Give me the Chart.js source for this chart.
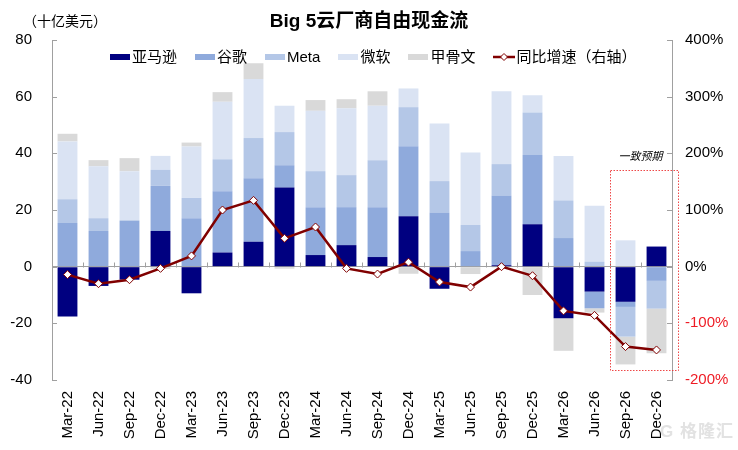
<!DOCTYPE html>
<html>
<head>
<meta charset="utf-8">
<script src="https://cdn.jsdelivr.net/npm/chart.js@4.4.1/dist/chart.umd.min.js"></script>
<style>
  html, body { margin: 0; padding: 0; background: #fff; }
  #wrap { position: relative; width: 738px; height: 450px; font-family: "Liberation Sans", "Noto Sans CJK SC", sans-serif; }
  #chart { position: absolute; left: 0; top: 0; }
  .title { position: absolute; left: 0; top: 10px; width: 738px; text-align: center; font-size: 19px; font-weight: bold; line-height: 22px; color: #000; }
  .unit { position: absolute; left: 23px; top: 11px; font-size: 14px; line-height: 20px; color: #000; }
  .legend { position: absolute; left: 110px; top: 48px; display: flex; align-items: center; font-size: 15px; line-height: 18px; color: #000; }
  .legend .item { display: flex; align-items: center; margin-right: 18px; }
  .legend .box { width: 20px; height: 6px; margin-right: 2px; }
  .legend svg { margin-right: 1px; }
  .mark { position: absolute; right: 4px; bottom: 8px; font-size: 17px; font-weight: bold; color: #e2e2e2; letter-spacing: 1px; }
</style>
</head>
<body>
<div id="wrap">
  <canvas id="chart" width="738" height="450"></canvas>
  <div class="unit">（十亿美元）</div>
  <div class="title">Big 5云厂商自由现金流</div>
  <div class="legend" id="legend"></div>
  <div class="mark">G 格隆汇</div>
</div>
<script>
// ====== DATA ======
const categories = ["Mar-22", "Jun-22", "Sep-22", "Dec-22", "Mar-23", "Jun-23", "Sep-23", "Dec-23",
  "Mar-24", "Jun-24", "Sep-24", "Dec-24", "Mar-25", "Jun-25", "Sep-25", "Dec-25",
  "Mar-26", "Jun-26", "Sep-26", "Dec-26"];

const amazon = [-17.6, -6.8, -4.6, 12.6, -9.4, 5.0, 8.8, 27.9, 4.1, 7.6, 3.4, 17.8, -7.8, 0, 0.5, 15.0, -18.2, -8.8, -12.4, 7.1];
const google = [15.4, 12.6, 16.2, 15.9, 17.1, 21.6, 22.4, 7.9, 16.9, 13.4, 17.6, 24.7, 19.0, 5.5, 24.5, 24.4, 10.1, -5.9, -1.8, -5.0];
const meta   = [8.4, 4.5, 0.2, 5.7, 7.2, 11.3, 14.2, 11.7, 12.7, 11.3, 16.6, 13.8, 11.2, 9.2, 11.2, 15.0, 13.3, 1.8, -10.5, -9.8];
const msft   = [20.4, 18.3, 17.3, 4.9, 18.1, 20.3, 20.8, 9.3, 21.3, 23.6, 19.2, 6.6, 20.3, 25.6, 25.7, 6.1, 15.7, 19.7, 9.3, 0];
const oracle = [2.7, 2.2, 4.6, -0.8, 1.4, 3.4, 5.6, -0.7, 3.8, 3.2, 5.1, -2.5, 0, -2.6, -0.3, -10.0, -11.5, -1.5, -9.8, -15.8];
const growth = [-14, -30, -23, -3, 19, 100, 117, 50, 70, -3, -13, 8, -27, -36, 0, -16, -78, -86, -141, -147];

const leftTicks = [-40, -20, 0, 20, 40, 60, 80];
const rightTicks = [-200, -100, 0, 100, 200, 300, 400];
const forecastFrom = "Sep-26";
const forecastLabel = "一致预期";

// ====== STYLE ======
const colors = {
  amazon: "#000080",
  google: "#8faadc",
  meta: "#b4c7e7",
  msft: "#dae3f3",
  oracle: "#d9d9d9",
  line: "#800000",
  axis: "#a0a0a0",
  red: "#ee1c25",
};
const FONT = "'Liberation Sans', 'Noto Sans CJK SC', sans-serif";

const barSeries = [
  { label: "亚马逊", data: amazon, color: colors.amazon },
  { label: "谷歌", data: google, color: colors.google },
  { label: "Meta", data: meta, color: colors.meta },
  { label: "微软", data: msft, color: colors.msft },
  { label: "甲骨文", data: oracle, color: colors.oracle },
];
const lineLabel = "同比增速（右轴）";

// ====== LEGEND (html) ======
const legend = document.getElementById("legend");
barSeries.forEach((s) => {
  const it = document.createElement("div");
  it.className = "item";
  it.innerHTML = `<span class="box" style="background:${s.color}"></span><span>${s.label}</span>`;
  legend.appendChild(it);
});
const lineItem = document.createElement("div");
lineItem.className = "item";
lineItem.innerHTML = `<svg width="22" height="10"><line x1="0" y1="5" x2="22" y2="5" stroke="${colors.line}" stroke-width="2.5"/>
  <polygon points="11,1.5 14.5,5 11,8.5 7.5,5" fill="#fff" stroke="${colors.line}" stroke-width="1"/></svg><span>${lineLabel}</span>`;
legend.appendChild(lineItem);

// ====== PLUGIN: inner ticks, zero-line ticks, forecast box ======
const extras = {
  id: "extras",
  beforeDatasetsDraw(chart) {
    const { ctx, chartArea: a, scales } = chart;
    const { x, y, y1 } = scales;
    ctx.save();
    ctx.strokeStyle = colors.axis;
    ctx.lineWidth = 1;
    ctx.beginPath();
    y.ticks.forEach((t) => {
      const p = Math.round(y.getPixelForValue(t.value)) + 0.5;
      ctx.moveTo(a.left, p);
      ctx.lineTo(a.left + 5, p);
    });
    y1.ticks.forEach((t) => {
      const p = Math.round(y1.getPixelForValue(t.value)) + 0.5;
      ctx.moveTo(a.right, p);
      ctx.lineTo(a.right - 5, p);
    });
    const zero = Math.round(y.getPixelForValue(0)) + 0.5;
    for (let i = 1; i < categories.length; i++) {
      const px = Math.round((x.getPixelForValue(i - 1) + x.getPixelForValue(i)) / 2) + 0.5;
      ctx.moveTo(px, zero);
      ctx.lineTo(px, zero - 5);
    }
    ctx.stroke();
    ctx.restore();
  },
  afterDatasetsDraw(chart) {
    const { ctx, chartArea: a, scales } = chart;
    const { x, y } = scales;
    const i = categories.indexOf(forecastFrom);
    const half = (x.getPixelForValue(1) - x.getPixelForValue(0)) / 2;
    const left = Math.round(x.getPixelForValue(i) - half) + 0.5;
    const right = Math.round(a.right + 6) + 0.5;
    const top = Math.round(y.getPixelForValue(34)) + 0.5;
    const bottom = Math.round(y.getPixelForValue(-36.5)) + 0.5;
    ctx.save();
    ctx.strokeStyle = "rgba(235,40,40,0.85)";
    ctx.lineWidth = 1;
    ctx.setLineDash([1.5, 1.5]);
    ctx.strokeRect(left, top, right - left, bottom - top);
    ctx.setLineDash([]);
    ctx.fillStyle = "#000";
    ctx.font = `italic 11px ${FONT}`;
    ctx.textAlign = "right";
    ctx.textBaseline = "middle";
    ctx.fillText(forecastLabel, right - 16, top - 14);
    ctx.restore();
  },
};

// ====== CHART ======
const datasets = barSeries.map((s) => ({
  type: "bar",
  label: s.label,
  data: s.data,
  backgroundColor: s.color,
  borderWidth: 0,
  yAxisID: "y",
  stack: "fcf",
  order: 1,
  barPercentage: 0.64,
  categoryPercentage: 1,
}));
datasets.push({
  type: "line",
  label: lineLabel,
  data: growth,
  yAxisID: "y1",
  order: 0,
  borderColor: colors.line,
  borderWidth: 2.5,
  pointStyle: "rectRot",
  pointRadius: 4,
  pointBackgroundColor: "#fff",
  pointBorderColor: colors.line,
  pointBorderWidth: 1,
  tension: 0,
});

new Chart(document.getElementById("chart"), {
  data: { labels: categories, datasets },
  plugins: [extras],
  options: {
    responsive: false,
    animation: false,
    devicePixelRatio: 1,
    layout: { padding: { top: 40, left: 0, right: 0, bottom: 0 } },
    plugins: { legend: { display: false }, tooltip: { enabled: false }, title: { display: false } },
    scales: {
      x: {
        stacked: true,
        grid: { display: false, drawTicks: false },
        border: { display: false },
        ticks: { color: "#000", font: { family: FONT, size: 15 }, minRotation: 90, maxRotation: 90, padding: 11, autoSkip: false },
        afterFit(s) { s.height = 70; },
      },
      y: {
        position: "left",
        stacked: true,
        min: leftTicks[0],
        max: leftTicks[leftTicks.length - 1],
        afterBuildTicks(s) { s.ticks = leftTicks.map((v) => ({ value: v })); },
        grid: {
          drawTicks: false,
          color: (c) => (c.tick && c.tick.value === 0 ? colors.axis : "rgba(0,0,0,0)"),
        },
        border: { display: true, color: colors.axis },
        ticks: { color: "#000", font: { family: FONT, size: 15 }, padding: 20 },
        afterFit(s) { s.width = 52; },
      },
      y1: {
        position: "right",
        min: rightTicks[0],
        max: rightTicks[rightTicks.length - 1],
        afterBuildTicks(s) { s.ticks = rightTicks.map((v) => ({ value: v })); },
        grid: { display: false, drawTicks: false },
        border: { display: true, color: colors.axis },
        ticks: {
          font: { family: FONT, size: 15 },
          padding: 13,
          color: (c) => (c.tick && c.tick.value < 0 ? colors.red : "#000"),
          callback: (v) => v + "%",
        },
        afterFit(s) { s.width = 66; },
      },
    },
  },
});
</script>
</body>
</html>
